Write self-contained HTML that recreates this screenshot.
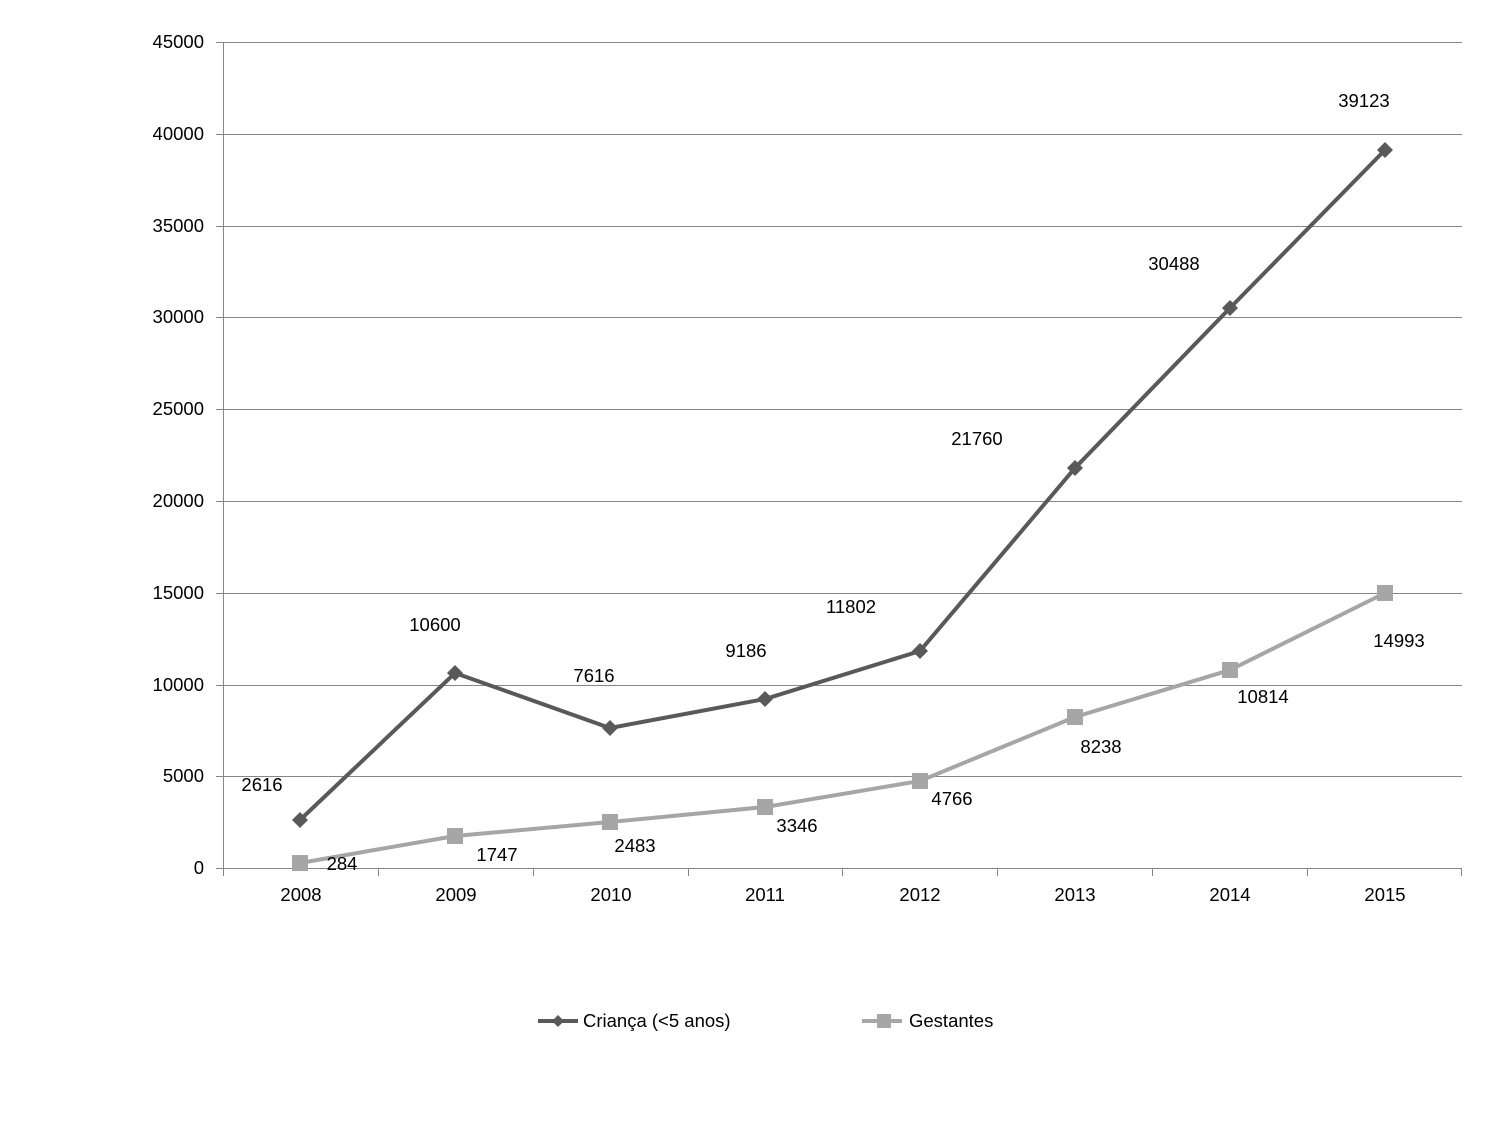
<!DOCTYPE html>
<html><head><meta charset="utf-8"><style>body{margin:0;background:#fff}svg{display:block}text{font-family:"Liberation Sans",sans-serif;font-size:18.5px;fill:#000}</style></head>
<body>
<svg width="1500" height="1125" viewBox="0 0 1500 1125" xmlns="http://www.w3.org/2000/svg">
<g stroke="#868686" stroke-width="1">
<line x1="216" y1="42.5" x2="1462" y2="42.5"/>
<line x1="216" y1="134.5" x2="1462" y2="134.5"/>
<line x1="216" y1="226.5" x2="1462" y2="226.5"/>
<line x1="216" y1="317.5" x2="1462" y2="317.5"/>
<line x1="216" y1="409.5" x2="1462" y2="409.5"/>
<line x1="216" y1="501.5" x2="1462" y2="501.5"/>
<line x1="216" y1="593.5" x2="1462" y2="593.5"/>
<line x1="216" y1="685.5" x2="1462" y2="685.5"/>
<line x1="216" y1="776.5" x2="1462" y2="776.5"/>
<line x1="216" y1="868.5" x2="1462" y2="868.5"/>
<line x1="223.5" y1="42" x2="223.5" y2="876"/>
<line x1="378.5" y1="868" x2="378.5" y2="876"/>
<line x1="533.5" y1="868" x2="533.5" y2="876"/>
<line x1="688.5" y1="868" x2="688.5" y2="876"/>
<line x1="842.5" y1="868" x2="842.5" y2="876"/>
<line x1="997.5" y1="868" x2="997.5" y2="876"/>
<line x1="1152.5" y1="868" x2="1152.5" y2="876"/>
<line x1="1307.5" y1="868" x2="1307.5" y2="876"/>
<line x1="1461.5" y1="868" x2="1461.5" y2="876"/>
</g>
<g text-anchor="end">
<text x="204" y="48">45000</text><text x="204" y="140">40000</text><text x="204" y="232">35000</text><text x="204" y="323">30000</text><text x="204" y="415">25000</text><text x="204" y="507">20000</text><text x="204" y="599">15000</text><text x="204" y="691">10000</text><text x="204" y="782">5000</text><text x="204" y="874">0</text>
</g>
<g text-anchor="middle">
<text x="301" y="901">2008</text><text x="456" y="901">2009</text><text x="611" y="901">2010</text><text x="765" y="901">2011</text><text x="920" y="901">2012</text><text x="1075" y="901">2013</text><text x="1230" y="901">2014</text><text x="1385" y="901">2015</text>
</g>
<polyline fill="none" stroke="#a6a6a6" stroke-width="4" points="300,863 455,836 610,822 765,807 920,781 1075,717 1230,670 1385,593"/>
<g fill="#a6a6a6">
<rect x="292" y="855" width="16" height="16"/><rect x="447" y="828" width="16" height="16"/><rect x="602" y="814" width="16" height="16"/><rect x="757" y="799" width="16" height="16"/><rect x="912" y="773" width="16" height="16"/><rect x="1067" y="709" width="16" height="16"/><rect x="1222" y="662" width="16" height="16"/><rect x="1377" y="585" width="16" height="16"/>
</g>
<polyline fill="none" stroke="#595959" stroke-width="4" points="300,820 455,673 610,728 765,699 920,651 1075,468 1230,308 1385,150"/>
<g fill="#595959">
<path d="M300 812l8 8-8 8-8-8z"/><path d="M455 665l8 8-8 8-8-8z"/><path d="M610 720l8 8-8 8-8-8z"/><path d="M765 691l8 8-8 8-8-8z"/><path d="M920 643l8 8-8 8-8-8z"/><path d="M1075 460l8 8-8 8-8-8z"/><path d="M1230 300l8 8-8 8-8-8z"/><path d="M1385 142l8 8-8 8-8-8z"/>
</g>
<g text-anchor="middle">
<text x="262" y="791">2616</text><text x="435" y="631">10600</text><text x="594" y="682">7616</text><text x="746" y="657">9186</text><text x="851" y="613">11802</text><text x="977" y="445">21760</text><text x="1174" y="270">30488</text><text x="1364" y="107">39123</text>
<text x="342" y="870">284</text><text x="497" y="861">1747</text><text x="635" y="852">2483</text><text x="797" y="832">3346</text><text x="952" y="805">4766</text><text x="1101" y="753">8238</text><text x="1263" y="703">10814</text><text x="1399" y="647">14993</text>
</g>
<line x1="538" y1="1021" x2="578" y2="1021" stroke="#595959" stroke-width="4"/>
<path d="M558 1015l6 6-6 6-6-6z" fill="#595959"/>
<text x="583" y="1027">Criança (&lt;5 anos)</text>
<line x1="862" y1="1021" x2="902" y2="1021" stroke="#a6a6a6" stroke-width="4"/>
<rect x="877" y="1014" width="14" height="14" fill="#a6a6a6"/>
<text x="909" y="1027">Gestantes</text>
</svg>
</body></html>
